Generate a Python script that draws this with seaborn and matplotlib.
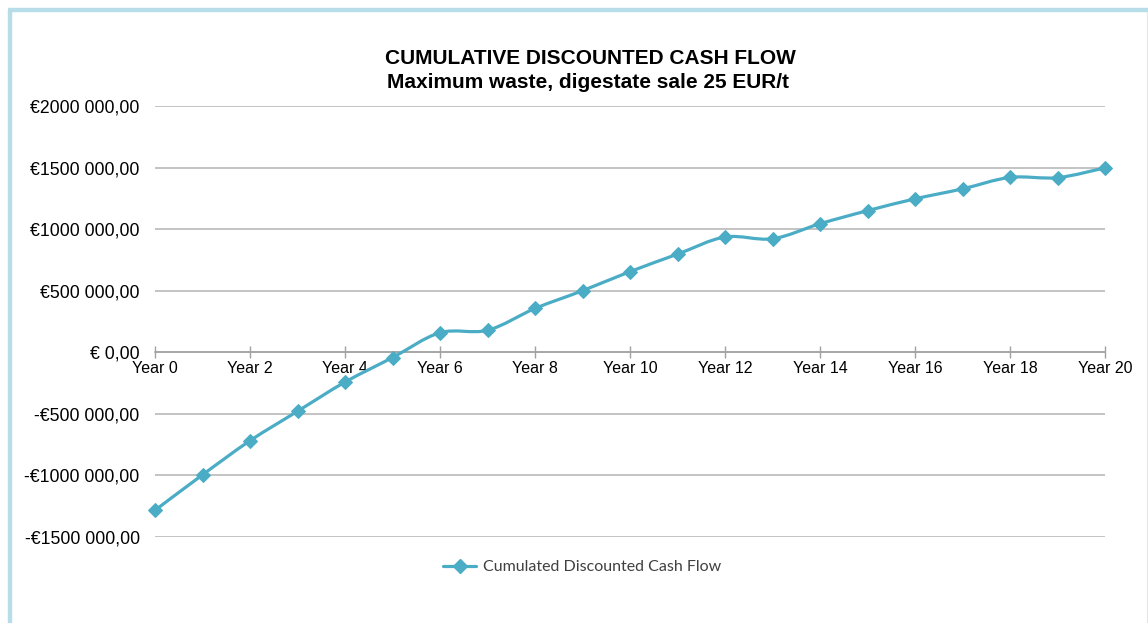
import numpy as np
import pandas as pd
import seaborn as sns
import matplotlib
matplotlib.use("Agg")
import matplotlib.pyplot as plt
from matplotlib.path import Path
from matplotlib.patches import PathPatch
from matplotlib.lines import Line2D
from matplotlib.ticker import FuncFormatter

# Cumulated discounted cash flow per project year (EUR)
years = list(range(0, 21))
cash_flow = [
    -1283000, -995000, -718000, -479000, -242000, -43000,
    159000, 179000, 356000, 500000, 655000, 797000, 936000,
    922000, 1044000, 1150000, 1246000, 1327000, 1420000,
    1418000, 1498000,
]
tick_years = list(range(0, 21, 2))
tick_labels = [f"Year {y}" for y in tick_years]
y_ticks = [-1500000, -1000000, -500000, 0, 500000, 1000000, 1500000, 2000000]

title_line1 = "CUMULATIVE DISCOUNTED CASH FLOW"
title_line2 = "Maximum waste, digestate sale 25 EUR/t"
series_name = "Cumulated Discounted Cash Flow"

LINE_COLOR = "#4bacc6"
GRID_COLOR = "#b3b3b3"
BORDER_COLOR = "#b7dde8"

df = pd.DataFrame({"year": years, "value": cash_flow})

sns.set_theme(style="white")
plt.rcParams["font.family"] = ["Liberation Sans", "DejaVu Sans"]

fig = plt.figure(figsize=(11.48, 6.23), dpi=100)
fig.patch.set_facecolor("white")
ax = fig.add_axes([155 / 1148, 1 - 537 / 623, (1105 - 155) / 1148, (537 - 106) / 623])
ax.set_facecolor("white")

# smoothed connecting curve (cubic Bezier segments through the points)
xs = df["year"].to_numpy(dtype=float)
ys = df["value"].to_numpy(dtype=float)
n = len(xs)
verts = [(xs[0], ys[0])]
codes = [Path.MOVETO]
for i in range(n - 1):
    p0 = np.array([xs[max(i - 1, 0)], ys[max(i - 1, 0)]])
    p1 = np.array([xs[i], ys[i]])
    p2 = np.array([xs[i + 1], ys[i + 1]])
    p3 = np.array([xs[min(i + 2, n - 1)], ys[min(i + 2, n - 1)]])
    c1 = p1 + (p2 - p0) / 6.0
    c2 = p2 - (p3 - p1) / 6.0
    verts += [tuple(c1), tuple(c2), tuple(p2)]
    codes += [Path.CURVE4] * 3
curve = PathPatch(Path(verts, codes), facecolor="none", edgecolor=LINE_COLOR,
                  lw=2.3, capstyle="round", joinstyle="round", zorder=3,
                  clip_on=False)
ax.add_patch(curve)

# diamond markers at each year
sns.lineplot(data=df, x="year", y="value", ax=ax, linestyle="none",
             marker="D", markersize=7, color=LINE_COLOR,
             markeredgecolor=LINE_COLOR, zorder=4, legend=False, clip_on=False)

ax.set_xlim(0, 20)
ax.set_ylim(-1500000, 2000000)
ax.set_xlabel("")
ax.set_ylabel("")

# horizontal gridlines
ax.set_yticks(y_ticks)
ax.yaxis.grid(True, color=GRID_COLOR, lw=1.1)
ax.xaxis.grid(False)
ax.set_axisbelow(True)


def euro(v, pos=None):
    if v == 0:
        return "€ 0,00"
    sign = "-" if v < 0 else ""
    a = int(abs(v))
    thousands, rest = divmod(a, 1000)
    return f"{sign}€{thousands} {rest:03d},00"


ax.yaxis.set_major_formatter(FuncFormatter(euro))
ax.tick_params(axis="y", length=0, pad=11, labelsize=12.7, labelcolor="#000000")

for side in ["left", "right", "top"]:
    ax.spines[side].set_visible(False)
ax.spines["bottom"].set_position(("data", 0))
ax.spines["bottom"].set_color("#a0a0a0")
ax.spines["bottom"].set_linewidth(1.1)
ax.spines["bottom"].set_zorder(2)

ax.set_xticks(tick_years)
ax.set_xticklabels(tick_labels)
ax.tick_params(axis="x", direction="inout", length=9, width=1, color="#a0a0a0",
               pad=2, labelsize=11.5, labelcolor="#000000", bottom=True)

# titles
fig.text(590 / 1148, 1 - 59 / 623, title_line1, ha="center", va="center",
         fontsize=15, fontweight="bold", color="#000000")
fig.text(588 / 1148, 1 - 83 / 623, title_line2, ha="center", va="center",
         fontsize=15, fontweight="bold", color="#000000")

# legend
handle = Line2D([], [], color=LINE_COLOR, lw=2.3, marker="D", markersize=7,
                markeredgecolor=LINE_COLOR)
leg = fig.legend([handle], [series_name], loc="center",
                 bbox_to_anchor=(582 / 1148, 1 - 567 / 623), frameon=False,
                 prop={"family": ["Lato", "DejaVu Sans"], "size": 11.5},
                 handlelength=2.1, handletextpad=0.4)
for t in leg.get_texts():
    t.set_color("#404040")

# light blue frame around the chart area
fig.add_artist(Line2D([10 / 1148, 10 / 1148], [1 - 10 / 623, 0], transform=fig.transFigure,
                      color=BORDER_COLOR, lw=3.2, solid_capstyle="butt"))
fig.add_artist(Line2D([8 / 1148, 1], [1 - 10 / 623, 1 - 10 / 623], transform=fig.transFigure,
                      color=BORDER_COLOR, lw=3.2, solid_capstyle="butt"))
fig.add_artist(Line2D([1147 / 1148, 1147 / 1148], [1 - 12 / 623, 0], transform=fig.transFigure,
                      color="#e6e6e6", lw=0.8))

fig.savefig("out.png", dpi=100, facecolor="white")
